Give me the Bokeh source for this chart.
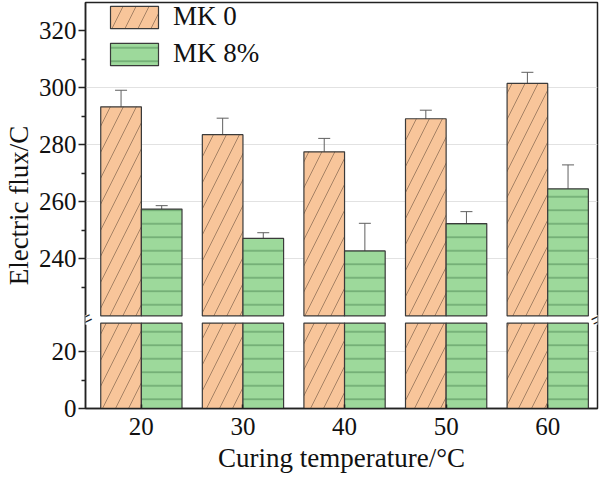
from bokeh.plotting import figure
from bokeh.models import (FixedTicker, Range1d, Legend, LegendItem, Label,
                          Whisker, ColumnDataSource, TeeHead)
from bokeh.embed import file_html
from bokeh.resources import INLINE

# ---------------- data ----------------
temps = [20, 30, 40, 50, 60]
mk0 = [293.4, 283.6, 277.6, 289.2, 301.6]
mk0_err = [5.8, 5.8, 4.7, 3.0, 3.9]
mk8 = [257.5, 247.2, 242.8, 252.4, 264.6]
mk8_err = [1.2, 2.0, 9.7, 4.2, 8.4]

series_names = ["MK 0", "MK 8%"]
x_tick_labels = ["20", "30", "40", "50", "60"]
y_ticks_low = [0, 20]
y_ticks_high = [240, 260, 280, 300, 320]
y_minor_low = [10]
y_minor_high = [230, 250, 270, 290, 310]
y_grid_low = [20]
y_grid_high = [240, 260, 280, 300]

# broken axis segments
low_top = 30
high_bottom = 220
high_top = 330
gap = 2.5


def tr(v):
    """map an upper-segment value onto the continuous plotting axis"""
    return v - high_bottom + low_top + gap


FONT = "Liberation Serif"
ORANGE = "#F8C59A"
ORANGE_H = "#9C7A5E"
GREEN = "#9DD99B"
GREEN_H = "#4A8450"
EDGE = "#3a3a3a"

FH = 406
X0, X1 = 14.5, 64.9
p = figure(frame_width=512, frame_height=FH,
           x_range=Range1d(X0, X1), y_range=Range1d(0, tr(high_top)),
           output_backend="svg", toolbar_location=None,
           min_border_top=2, min_border_right=12, min_border_left=0,
           min_border_bottom=0)

bw = 4.0
xs0 = [t - bw / 2 for t in temps]
xs8 = [t + bw / 2 for t in temps]

renderers = []
for xc, vals, errs, fc, hc, pat in [(xs0, mk0, mk0_err, ORANGE, ORANGE_H, "/"),
                                     (xs8, mk8, mk8_err, GREEN, GREEN_H, "-")]:
    left = [x - bw / 2 for x in xc]
    right = [x + bw / 2 for x in xc]
    style = dict(fill_color=fc, line_color=EDGE, line_width=1.2,
                 hatch_pattern=pat, hatch_color=hc, hatch_weight=1,
                 hatch_scale=26 if pat == "/" else 13.5, hatch_alpha=0.9)
    # lower segment
    p.quad(left=left, right=right, bottom=[0] * len(xc), top=[low_top] * len(xc), **style)
    # upper segment
    r = p.quad(left=left, right=right, bottom=[tr(high_bottom)] * len(xc),
               top=[tr(v) for v in vals], **style)
    renderers.append(r)
    src = ColumnDataSource(dict(x=xc,
                                up=[tr(v + e) for v, e in zip(vals, errs)],
                                lo=[tr(v - e) for v, e in zip(vals, errs)]))
    w = Whisker(base="x", upper="up", lower="lo", source=src,
                line_color="#606060", line_width=1,
                upper_head=TeeHead(size=12, line_color="#606060", line_width=1),
                lower_head=TeeHead(size=12, line_color="#606060", line_width=1))
    p.add_layout(w)

legend = Legend(items=[LegendItem(label=series_names[0], renderers=[renderers[0]]),
                       LegendItem(label=series_names[1], renderers=[renderers[1]])],
                location=(19, FH - 5 - 62), glyph_width=60, glyph_height=28,
                label_height=28, spacing=6, padding=0, margin=0,
                label_standoff=9, label_text_font=FONT,
                label_text_font_size="27px", label_text_color="#111111",
                background_fill_alpha=0, border_line_alpha=0)
p.add_layout(legend)

# axes
p.xaxis.ticker = FixedTicker(ticks=temps)
p.xaxis.major_label_overrides = {t: l for t, l in zip(temps, x_tick_labels)}
p.xaxis.axis_label = "Curing temperature/°C"
p.yaxis.axis_label = "Electric flux/C"

yt = y_ticks_low + [tr(t) for t in y_ticks_high]
p.yaxis.ticker = FixedTicker(ticks=yt,
                             minor_ticks=y_minor_low + [tr(t) for t in y_minor_high])
ov = {t: str(t) for t in y_ticks_low}
ov.update({tr(t): str(t) for t in y_ticks_high})
p.yaxis.major_label_overrides = ov

for ax in (p.xaxis, p.yaxis):
    ax.axis_line_color = "#222222"
    ax.axis_line_width = 1.5
    ax.major_tick_line_color = "#222222"
    ax.major_tick_line_width = 1.5
    ax.minor_tick_line_color = "#222222"
    ax.minor_tick_line_width = 1.5
    ax.major_label_text_font = FONT
    ax.major_label_text_font_size = "25px"
    ax.major_label_text_color = "#111111"
    ax.axis_label_text_font = FONT
    ax.axis_label_text_font_size = "27px"
    ax.axis_label_text_font_style = "normal"
    ax.axis_label_text_color = "#111111"

p.yaxis.major_tick_out = 7
p.yaxis.major_tick_in = 0
p.yaxis.minor_tick_out = 4
p.yaxis.minor_tick_in = 0
p.yaxis.major_label_standoff = 2
p.yaxis.axis_label_standoff = 2
p.xaxis.major_tick_in = 4
p.xaxis.major_tick_out = 0
p.xaxis.minor_tick_line_color = None
p.xaxis.major_label_standoff = 9
p.xaxis.axis_label_standoff = 5

p.xgrid.visible = False
p.ygrid.ticker = FixedTicker(ticks=y_grid_low + [tr(t) for t in y_grid_high])
p.ygrid.grid_line_color = "#e2e2e2"
p.ygrid.grid_line_width = 1

p.outline_line_color = "#222222"
p.outline_line_width = 1.5
p.background_fill_color = "white"
p.border_fill_color = "white"

# break marks on both vertical edges
ymid = low_top + gap / 2
for xe in (X0, X1):
    p.add_layout(Label(x=xe, y=ymid, text="█", text_color="white",
                       text_font_size="8px", text_align="center",
                       text_baseline="middle"))
    p.add_layout(Label(x=xe, y=ymid, text="=", text_color="#222222",
                       text_font=FONT, text_font_size="24px", angle=0.45,
                       text_align="center", text_baseline="middle"))

open("out.html", "w").write(file_html(p, INLINE))
